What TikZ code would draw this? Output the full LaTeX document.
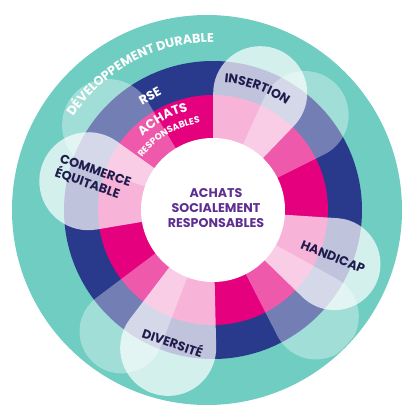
\documentclass[tikz,border=0pt]{standalone}
\usepackage{fontspec}
\setmainfont{Poppins}
\usetikzlibrary{decorations.text}

\definecolor{rsteal}{HTML}{70CDC2}
\definecolor{rsnavy}{HTML}{29398C}
\definecolor{rsmagenta}{HTML}{E5007E}
\definecolor{rspurple}{HTML}{5E2F91}
\definecolor{rsink}{HTML}{1F1C4D}

% petal: angle, distance, radius, opacity
\newcommand{\petal}[4]{%
  \pgfmathsetmacro{\petalangle}{asin(#3/#2)}%
  \pgfmathsetmacro{\petallen}{#2*cos(\petalangle)}%
  \fill[white, fill opacity=#4] (0,0) -- ({#1+\petalangle}:\petallen)
    arc[start angle={#1+\petalangle+90}, end angle={#1-\petalangle-90}, radius=#3] -- cycle;}

\begin{document}
\begin{tikzpicture}[scale=0.025,
    theme/.style={font=\bfseries\fontsize{9}{10.5}\selectfont, text=rsink},
    ringtext/.style={decorate, decoration={text along path, text align=center, text={#1}}}]
    \useasboundingbox (-213,-200) rectangle (195,210);

    % Rings
    \fill[rsteal] (-6,0) circle (195);
    \fill[rsnavy] (0,0) circle (149);
    \fill[rsmagenta] (0,0) circle (115);

    \begin{scope}
    \clip (-6,0) circle (194);
    % Insertion
    \petal{46}{132}{44}{0.35}
    \petal{68}{126}{47}{0.7}
    % Handicap
    \petal{-46}{148}{43}{0.35}
    \petal{-24}{133}{46}{0.7}
    % Diversite
    \petal{-127}{152}{42}{0.35}
    \petal{-108}{145}{48}{0.7}
    % Commerce equitable
    \petal{141}{135}{46}{0.35}
    \petal{167}{128}{49}{0.7}
    \end{scope}

    % Centre
    \fill[white] (0,0) circle (72);
    \node[font=\bfseries\fontsize{9}{10.5}\selectfont, text=rspurple, align=center] (centre) at (3,2)
        {ACHATS\\SOCIALEMENT\\RESPONSABLES};

    % Curved labels
    \path[ringtext={|\bfseries\fontsize{9}{9}\selectfont\color{white}|DÉVELOPPEMENT DURABLE}]
        (152:168) arc[start angle=152, end angle=84, radius=168];
    \path[ringtext={|\bfseries\fontsize{9}{9}\selectfont\color{rsink}|INSERTION}]
        (90:128) arc[start angle=90, end angle=50, radius=128];
    \path[ringtext={|\bfseries\fontsize{9}{9}\selectfont\color{white}|ACHATS}]
        (140:102) arc[start angle=140, end angle=98, radius=102];
    \path[ringtext={|\bfseries\fontsize{6.5}{7}\selectfont\color{white}|RESPONSABLES}]
        (152:88) arc[start angle=152, end angle=90, radius=88];

    % Straight labels
    \node[theme, text=white, rotate=29] (rse) at (-63,114) {RSE};
    \node[theme, rotate=-22] (handicap) at (120,-47) {HANDICAP};
    \node[theme, rotate=-19] (diversite) at (-40,-132) {DIVERSITÉ};
    \node[theme, rotate=-19, align=left] (commerce) at (-120,32) {COMMERCE\\ÉQUITABLE};
\end{tikzpicture}
\end{document}
